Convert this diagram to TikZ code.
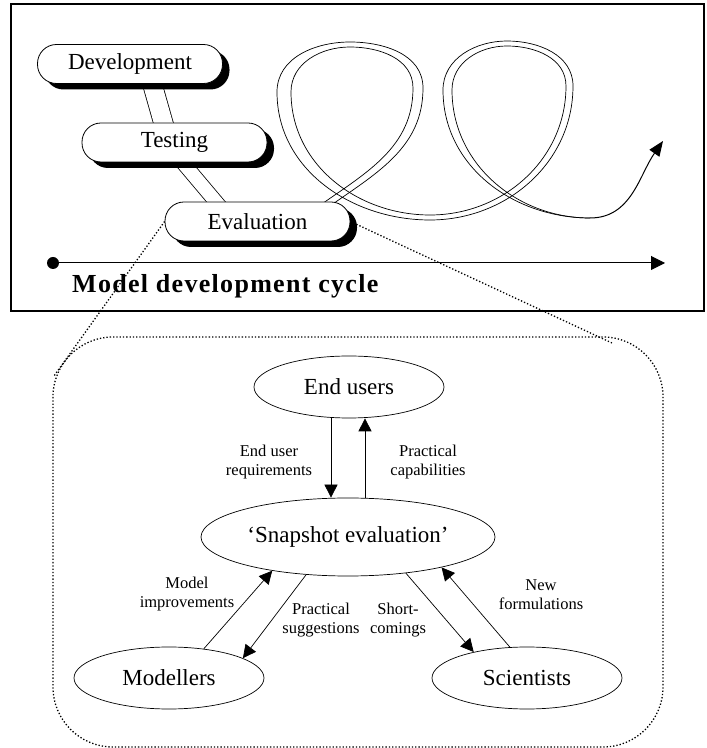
\documentclass[tikz,border=0pt]{standalone}
\usepackage{fontspec}
\setmainfont{Liberation Serif}
\newfontfamily\titlefont[LetterSpace=5]{Liberation Serif}
\usepackage{tikz}
\usetikzlibrary{arrows.meta,positioning,shapes.geometric,shadows,backgrounds,calc}

\begin{document}
\begin{tikzpicture}[x=1pt,y=1pt,
  stage/.style={rectangle,draw,fill=white,line width=0.8pt,rounded corners=19pt,
    minimum width=185pt,minimum height=39pt,inner sep=0pt,
    font=\fontsize{23}{27}\selectfont,
    drop shadow={shadow xshift=7pt,shadow yshift=-6pt,fill=black,opacity=1}},
  actor/.style={ellipse,draw,fill=white,line width=0.7pt,minimum width=190pt,
    minimum height=62pt,inner sep=0pt,font=\fontsize{23}{27}\selectfont},
  lbl/.style={align=center,inner sep=0pt,font=\fontsize{16.5}{19}\selectfont},
  flow/.style={line width=0.7pt,-{Triangle[length=13pt,width=13pt]}},
  ribbon/.style={line width=0.7pt},
  band/.style={line width=0.8pt,double,double distance=#1},
  zoomline/.style={dotted,line width=1.3pt}]
  \useasboundingbox (0,0) rectangle (707,748);

  % Model development cycle
  \draw[line width=1.2pt] (11,437) rectangle (704,744);
  \node[stage] (dev) at (130,684) {Development};
  \node[stage] (test) at (174.5,605.5) {Testing};
  \node[stage] (eval) at (257.5,526.5) {Evaluation};
  \node[circle,fill,inner sep=0pt,minimum size=12pt] (start) at (53,485) {};
  \coordinate (axisend) at (665,485);
  \draw[line width=1pt,-{Triangle[length=14pt,width=14pt]}] (start.center) -- (axisend);
  \node[anchor=base west,inner sep=0pt,
    font=\titlefont\fontsize{26}{30}\selectfont\bfseries] (title) at (72,455) {Model development cycle};

  \begin{scope}[on background layer]
    % bands between the stages
    \draw[band=18.5pt] ($(dev.south)+(20,8)$) -- ($(test.north)+(-9,-8)$);
    \draw[band=13.5pt] ($(test.south)+(6.5,2)$) -- ($(eval.north)+(-35,-8)$);
    % loops after the evaluation
    \coordinate (loopend) at (590,530);
    \draw[ribbon] ($(eval.north)+(62,-4)$) to[out=35,in=270] (413,660)
      to[out=90,in=0] (350,701) to[out=180,in=90] (291,656)
      to[out=270,in=180] (430,533) to[out=0,in=270] (566,662)
      to[out=90,in=0] (507,702) to[out=180,in=90] (452,658)
      to[out=270,in=180] (loopend);
    \draw[ribbon] ($(eval.north)+(73,-4)$) to[out=35,in=270] (423,660)
      to[out=90,in=0] (350,706) to[out=180,in=90] (277,656)
      to[out=270,in=180] (430,528) to[out=0,in=270] (573,662)
      to[out=90,in=0] (507,707) to[out=180,in=90] (443,658)
      to[out=270,in=180] (loopend);
  \end{scope}
  \coordinate (looptip) at (663,607);
  \draw[line width=1pt,-{Triangle[length=15pt,width=12pt]}] (loopend) to[out=0,in=235] (looptip);

  % Snapshot evaluation
  \draw[zoomline,rounded corners=60pt] (53,411) rectangle (663,1);
  \coordinate (lefttie) at (54,372);
  \coordinate (righttie) at (612,405);
  \draw[zoomline] (eval.west) -- (lefttie);
  \draw[zoomline] (eval.east) -- (righttie);

  \node[actor] (users) at (349,361) {End users};
  \node[actor,minimum width=294pt,minimum height=78pt] (snap) at (348,211) {‘Snapshot evaluation’};
  \node[actor] (modellers) at (169,70) {Modellers};
  \node[actor] (scientists) at (527,70) {Scientists};

  \draw[flow] ([xshift=-18pt]users.south) -- ([xshift=-17pt]snap.north);
  \draw[flow] ([xshift=17pt]snap.north) -- ([xshift=16pt]users.south);
  \draw[flow] (modellers.40) -- (snap.204);
  \draw[flow] (snap.222) -- (modellers.15);
  \draw[flow] (snap.328) -- (scientists.154);
  \draw[flow] (scientists.119) -- (snap.342);

  \node[lbl] (req) at (269,286) {End user\\requirements};
  \node[lbl] (cap) at (428,286) {Practical\\capabilities};
  \node[lbl] (impr) at (187,153.5) {Model\\improvements};
  \node[lbl] (sugg) at (321,128) {Practical\\suggestions};
  \node[lbl] (short) at (398,128) {Short-\\comings};
  \node[lbl] (form) at (541,153.5) {New\\formulations};
\end{tikzpicture}
\end{document}
